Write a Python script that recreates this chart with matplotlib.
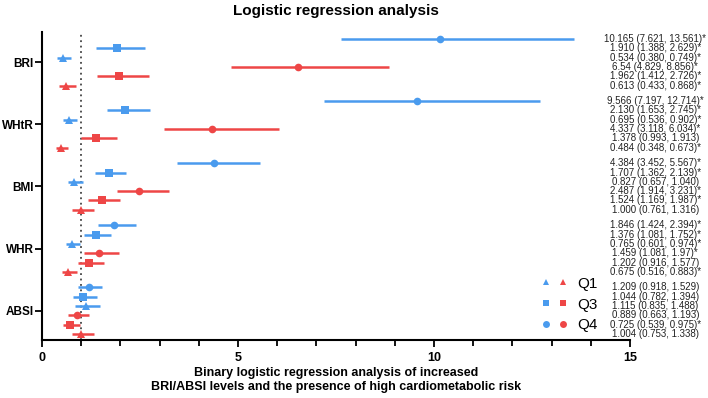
import numpy as np
import matplotlib.pyplot as plt
from matplotlib.legend_handler import HandlerTuple
from matplotlib.lines import Line2D

plt.rcParams["font.family"] = ["Liberation Sans", "DejaVu Sans"]

# indices in display order; within each: blue Q4, Q3, Q1, red Q4, Q3, Q1
indices = ["BRI", "WHtR", "BMI", "WHR", "ABSI"]
quartiles = ["Q4", "Q3", "Q1", "Q4", "Q3", "Q1"]

odds = [
    [10.165, 1.910, 0.534, 6.54, 1.962, 0.613],
    [9.566, 2.130, 0.695, 4.337, 1.378, 0.484],
    [4.384, 1.707, 0.827, 2.487, 1.524, 1.000],
    [1.846, 1.376, 0.765, 1.459, 1.202, 0.675],
    [1.209, 1.044, 1.115, 0.889, 0.725, 1.004],
]
lower = [
    [7.621, 1.388, 0.380, 4.829, 1.412, 0.433],
    [7.197, 1.653, 0.536, 3.118, 0.993, 0.348],
    [3.452, 1.362, 0.657, 1.914, 1.169, 0.761],
    [1.424, 1.081, 0.601, 1.081, 0.916, 0.516],
    [0.918, 0.782, 0.835, 0.663, 0.539, 0.753],
]
upper = [
    [13.561, 2.629, 0.749, 8.856, 2.726, 0.868],
    [12.714, 2.745, 0.902, 6.034, 1.913, 0.673],
    [5.567, 2.139, 1.040, 3.231, 1.987, 1.316],
    [2.394, 1.752, 0.974, 1.97, 1.577, 0.883],
    [1.529, 1.394, 1.488, 1.193, 0.975, 1.338],
]
labels = [
    ["10.165 (7.621, 13.561)*", "1.910 (1.388, 2.629)*", "0.534 (0.380, 0.749)*",
     "6.54 (4.829, 8.856)*", "1.962 (1.412, 2.726)*", "0.613 (0.433, 0.868)*"],
    ["9.566 (7.197, 12.714)*", "2.130 (1.653, 2.745)*", "0.695 (0.536, 0.902)*",
     "4.337 (3.118, 6.034)*", "1.378 (0.993, 1.913)", "0.484 (0.348, 0.673)*"],
    ["4.384 (3.452, 5.567)*", "1.707 (1.362, 2.139)*", "0.827 (0.657, 1.040)",
     "2.487 (1.914, 3.231)*", "1.524 (1.169, 1.987)*", "1.000 (0.761, 1.316)"],
    ["1.846 (1.424, 2.394)*", "1.376 (1.081, 1.752)*", "0.765 (0.601, 0.974)*",
     "1.459 (1.081, 1.97)*", "1.202 (0.916, 1.577)", "0.675 (0.516, 0.883)*"],
    ["1.209 (0.918, 1.529)", "1.044 (0.782, 1.394)", "1.115 (0.835, 1.488)",
     "0.889 (0.663, 1.193)", "0.725 (0.539, 0.975)*", "1.004 (0.753, 1.338)"],
]

blue = "#4a9bee"
red = "#ee4646"
colors = [blue, blue, blue, red, red, red]
markers = {"Q4": "o", "Q3": "s", "Q1": "^"}
msize = {"Q4": 5.5, "Q3": 6, "Q1": 5.5}

group_gap = 6.67

fig = plt.figure(figsize=(7.08, 3.98), dpi=100)
ax = fig.add_axes([0.0593, 0.1457, 0.8305, 0.7739])

for g in range(len(indices)):
    for j in range(6):
        y = g * group_gap + j
        o, lo, hi = odds[g][j], lower[g][j], upper[g][j]
        ax.errorbar(o, y, xerr=[[o - lo], [hi - o]], fmt=markers[quartiles[j]],
                    color=colors[j], ms=msize[quartiles[j]], elinewidth=1.8,
                    capsize=2, capthick=1.5, mew=0)
        ax.text(1.043, y, labels[g][j], transform=ax.get_yaxis_transform(),
                ha="center", va="center", fontsize=7, color="#222222",
                clip_on=False)

ax.axvline(1, color="#444444", lw=1.3, ls=(0, (1, 2)), zorder=0)

ax.set_xlim(0, 15)
ax.set_ylim(4 * group_gap + 5 + 0.65, -0.75)
ax.set_xticks([0, 5, 10, 15])
ax.set_xticks(np.arange(0, 16, 1), minor=True)
ax.set_yticks([g * group_gap + 2.5 for g in range(len(indices))])
ax.set_yticklabels(indices, fontsize=8.5, fontweight="bold")
for t in ax.get_xticklabels():
    t.set_fontweight("bold")
    t.set_fontsize(9)
ax.tick_params(axis="both", which="major", length=5, width=1.3, color="black")
ax.tick_params(axis="y", pad=1)
ax.tick_params(axis="x", which="minor", length=4, width=1.3)
for s in ["top", "right"]:
    ax.spines[s].set_visible(False)
for s in ["left", "bottom"]:
    ax.spines[s].set_linewidth(1.5)

ax.set_title("Logistic regression analysis", fontsize=11, fontweight="bold", pad=12)
ax.set_xlabel("Binary logistic regression analysis of increased\n"
              "BRI/ABSI levels and the presence of high cardiometabolic risk",
              fontsize=9, fontweight="bold", labelpad=2, linespacing=1.25)

handles = []
for q in ["Q1", "Q3", "Q4"]:
    hb = Line2D([], [], marker=markers[q], color=blue, ls="none", ms=5, mew=0)
    hr = Line2D([], [], marker=markers[q], color=red, ls="none", ms=5, mew=0)
    handles.append((hb, hr))
ax.legend(handles, ["Q1", "Q3", "Q4"], handler_map={tuple: HandlerTuple(ndivide=None, pad=0.6)},
          loc="center", bbox_to_anchor=(0.898, 0.115), frameon=False, fontsize=11,
          handlelength=1.6, labelspacing=0.45, handletextpad=0.7)

fig.savefig("out.png", dpi=100)
